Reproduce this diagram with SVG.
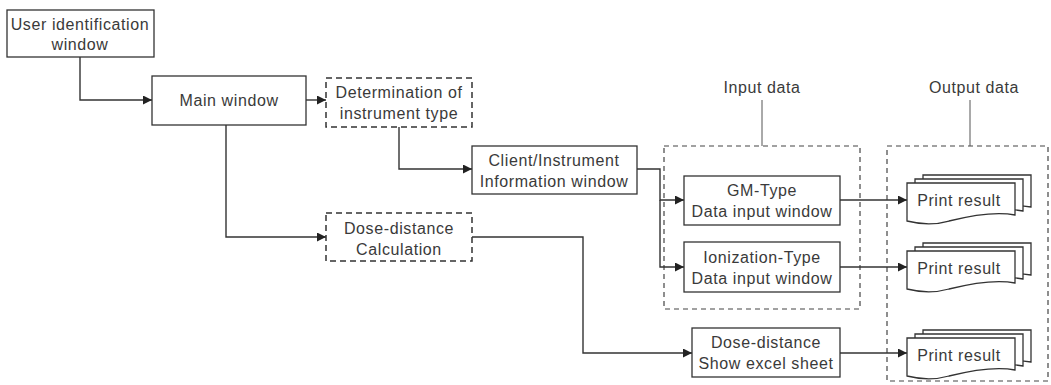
<svg xmlns="http://www.w3.org/2000/svg" width="1051" height="385" viewBox="0 0 1051 385">
  <defs>
    <style>
      .box { fill: #fff; stroke: #333; stroke-width: 1.3; }
      .dbox { fill: #fff; stroke: #333; stroke-width: 1.5; stroke-dasharray: 6 4; }
      .grp { fill: none; stroke: #444; stroke-width: 1.2; stroke-dasharray: 5 4; }
      .lbl { font-family: "Liberation Sans", Arial, sans-serif; font-size: 16px; fill: #3a3a3a; text-anchor: middle; letter-spacing: 0.6px; }
      .wire { fill: none; stroke: #333; stroke-width: 1.4; }
      .lead { fill: none; stroke: #555; stroke-width: 1; }
      .doc { fill: #fff; stroke: #333; stroke-width: 1.3; }
    </style>
    <marker id="arr" viewBox="0 0 10 10" refX="10" refY="5" markerWidth="9" markerHeight="9" markerUnits="userSpaceOnUse" orient="auto">
      <path d="M0,0 L10,5 L0,10 z" fill="#222"/>
    </marker>
    <!-- one page of the stacked print output, drawn at origin -->
    <path id="page" d="M0,0 H108 V32 C88,28 62,33 42,38 C28,42 12,41 0,38 Z"/>
  </defs>

  <!-- grouping frames -->
  <g id="input-data">
    <rect class="grp" x="664" y="146" width="196" height="163"/>
    <line class="lead" x1="762" y1="100" x2="762" y2="146"/>
    <text class="lbl" x="762" y="93">Input data</text>
  </g>
  <g id="output-data">
    <rect class="grp" x="887" y="146" width="161" height="235"/>
    <line class="lead" x1="970" y1="100" x2="970" y2="146"/>
    <text class="lbl" x="974" y="93">Output data</text>
  </g>

  <!-- connectors -->
  <g id="connectors">
    <path class="wire" d="M80,57 V100 H152" marker-end="url(#arr)"/>
    <path class="wire" d="M306,100 H326" marker-end="url(#arr)"/>
    <path class="wire" d="M226,125 V237 H326" marker-end="url(#arr)"/>
    <path class="wire" d="M399,127 V169 H472" marker-end="url(#arr)"/>
    <path class="wire" d="M637,169 H660 V200 H684" marker-end="url(#arr)"/>
    <path class="wire" d="M660,200 V267 H684" marker-end="url(#arr)"/>
    <path class="wire" d="M472,237 H583 V353 H692" marker-end="url(#arr)"/>
    <path class="wire" d="M840,200 H907" marker-end="url(#arr)"/>
    <path class="wire" d="M840,267 H907" marker-end="url(#arr)"/>
    <path class="wire" d="M840,353 H907" marker-end="url(#arr)"/>
  </g>

  <g id="user-id">
    <rect class="box" x="7" y="10" width="147" height="47"/>
    <text class="lbl" x="80" y="30">User identification</text>
    <text class="lbl" x="80" y="50">window</text>
  </g>

  <g id="main-window">
    <rect class="box" x="152" y="76" width="154" height="49"/>
    <text class="lbl" x="229" y="106">Main window</text>
  </g>

  <g id="determination">
    <rect class="dbox" x="326" y="78" width="146" height="49"/>
    <text class="lbl" x="399" y="98">Determination of</text>
    <text class="lbl" x="399" y="119">instrument type</text>
  </g>

  <g id="dose-calc">
    <rect class="dbox" x="326" y="213" width="146" height="48"/>
    <text class="lbl" x="399" y="234">Dose-distance</text>
    <text class="lbl" x="399" y="255">Calculation</text>
  </g>

  <g id="client-info">
    <rect class="box" x="472" y="146" width="165" height="48"/>
    <text class="lbl" x="554" y="166">Client/Instrument</text>
    <text class="lbl" x="554" y="187">Information window</text>
  </g>

  <g id="gm-type">
    <rect class="box" x="684" y="176" width="156" height="49"/>
    <text class="lbl" x="762" y="196">GM-Type</text>
    <text class="lbl" x="762" y="217">Data input window</text>
  </g>

  <g id="ion-type">
    <rect class="box" x="684" y="242" width="156" height="50"/>
    <text class="lbl" x="762" y="263">Ionization-Type</text>
    <text class="lbl" x="762" y="284">Data input window</text>
  </g>

  <g id="dose-sheet">
    <rect class="box" x="692" y="328" width="148" height="49"/>
    <text class="lbl" x="766" y="348">Dose-distance</text>
    <text class="lbl" x="766" y="369">Show excel sheet</text>
  </g>

  <g id="print-1">
    <use href="#page" class="doc" x="923" y="175"/>
    <use href="#page" class="doc" x="915" y="179"/>
    <use href="#page" class="doc" x="907" y="183"/>
    <text class="lbl" x="959" y="206">Print result</text>
  </g>

  <g id="print-2">
    <use href="#page" class="doc" x="923" y="243"/>
    <use href="#page" class="doc" x="915" y="247"/>
    <use href="#page" class="doc" x="907" y="251"/>
    <text class="lbl" x="959" y="274">Print result</text>
  </g>

  <g id="print-3">
    <use href="#page" class="doc" x="923" y="330"/>
    <use href="#page" class="doc" x="915" y="334"/>
    <use href="#page" class="doc" x="907" y="338"/>
    <text class="lbl" x="959" y="361">Print result</text>
  </g>
</svg>
